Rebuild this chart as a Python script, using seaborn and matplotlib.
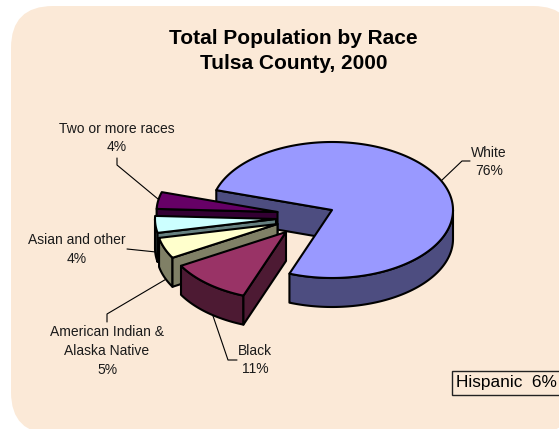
import numpy as np
import pandas as pd
import seaborn as sns
import matplotlib
matplotlib.use("Agg")
import matplotlib.pyplot as plt
from matplotlib.patches import FancyBboxPatch, Polygon, Rectangle

# Share of the county population by race, in percent
races = ["Two or more races", "Asian and other", "American Indian &\nAlaska Native", "Black", "White"]
shares = [4, 4, 5, 11, 76]
top_colors = ["#660066", "#CCFFFF", "#FFFFCC", "#993366", "#9999FF"]
hispanic_share = 6

sns.set_theme(style="white")
plt.rcParams["font.family"] = ["Liberation Sans", "DejaVu Sans"]

W, H = 559, 429
fig = plt.figure(figsize=(W / 100, H / 100), dpi=100, facecolor="white")
ax = fig.add_axes([0, 0, 1, 1])
ax.set_xlim(0, W)
ax.set_ylim(H, 0)
ax.axis("off")

PANEL = "#FBE9D7"
ax.add_patch(FancyBboxPatch((53, 48), 480, 344, boxstyle="round,pad=42,rounding_size=42",
                            fc=PANEL, ec="none", zorder=0))

RX, RY, DEPTH = 121, 68, 29
START = 163
# Where each exploded slice has its tip
tips = {"Two or more races": (277.5, 212), "Asian and other": (276, 219),
        "American Indian &\nAlaska Native": (277.5, 224), "Black": (286, 232), "White": (332, 210)}

df = pd.DataFrame({"race": races, "share": shares, "color": top_colors})
df["sweep"] = df["share"] / df["share"].sum() * 360
df["t0"] = START + df["sweep"].cumsum().shift(fill_value=0)
df["t1"] = df["t0"] + df["sweep"]
# Wall colours are the top colours at half brightness
side_colors = [tuple(c * 0.5 for c in rgb) for rgb in sns.color_palette(top_colors)]


def rim(tip, a0, a1):
    a = np.radians(np.linspace(a0, a1, max(int(abs(a1 - a0)) * 2, 2)))
    return np.column_stack([tip[0] + RX * np.cos(a), tip[1] - RY * np.sin(a)])


def draw_slice(row, side, z):
    tip = np.array(tips[row.race], dtype=float)
    arc = rim(tip, row.t0, row.t1)
    drop = np.array([0, DEPTH])
    style = dict(lw=1.5, ec="black", joinstyle="round", zorder=z)
    # Outer wall: only the near half of the rim faces the viewer
    for lo in (180, 540):
        a0, a1 = max(row.t0, lo), min(row.t1, lo + 180)
        if a1 > a0:
            part = rim(tip, a0, a1)
            ax.add_patch(Polygon(np.vstack([part, (part + drop)[::-1]]), fc=side, **style))
    # Cut walls: drawn only when the cut faces down the page
    for end, sign in ((arc[0], 1), (arc[-1], -1)):
        if sign * (end[0] - tip[0]) > 0:
            quad = [tip, end, end + drop, tip + drop]
            ax.add_patch(Polygon(quad, fc=side, **style))
    ax.add_patch(Polygon(np.vstack([[tip], arc]), fc=row.color, **style))


# White sits at the back, the others stack towards the viewer
for z, i in enumerate([4, 0, 1, 2, 3]):
    draw_slice(df.iloc[i], side_colors[i], 2 + z)

TXT = "#1a1a1a"
ax.text(293.5, 51, "Total Population by Race\nTulsa County, 2000", ha="center", va="center",
        fontsize=15, fontweight="bold", color="black", linespacing=1.38, zorder=20)

label_pos = {"Two or more races": (117, 138), "Asian and other": (77, 249.5),
             "American Indian &\nAlaska Native": (107, 351), "Black": (255, 360), "White": (489, 162)}
leaders = {"Two or more races": [(117, 158), (117, 165), (158, 199)],
           "Asian and other": [(127, 249), (156, 252)],
           "American Indian &\nAlaska Native": [(107, 322), (107, 314), (168, 278)],
           "Black": [(237, 360), (228, 360), (212, 313)],
           "White": [(470, 161), (462, 161), (441, 181)]}
for name, share in zip(races, shares):
    x, y = label_pos[name]
    ax.text(x, y, f"{name}\n{share}%", ha="center", va="center", fontsize=10, color=TXT,
            linespacing=1.42, zorder=20)
    pts = np.array(leaders[name])
    ax.plot(pts[:, 0], pts[:, 1], color="black", lw=0.8, zorder=1)

ax.add_patch(Rectangle((452, 371), 112, 24, fc=PANEL, ec="#222222", lw=1, zorder=15))
ax.text(456, 383, f"Hispanic  {hispanic_share}%", ha="left", va="center", fontsize=12.4,
        color="black", zorder=20)

fig.savefig("out.png", dpi=100, facecolor="white")
